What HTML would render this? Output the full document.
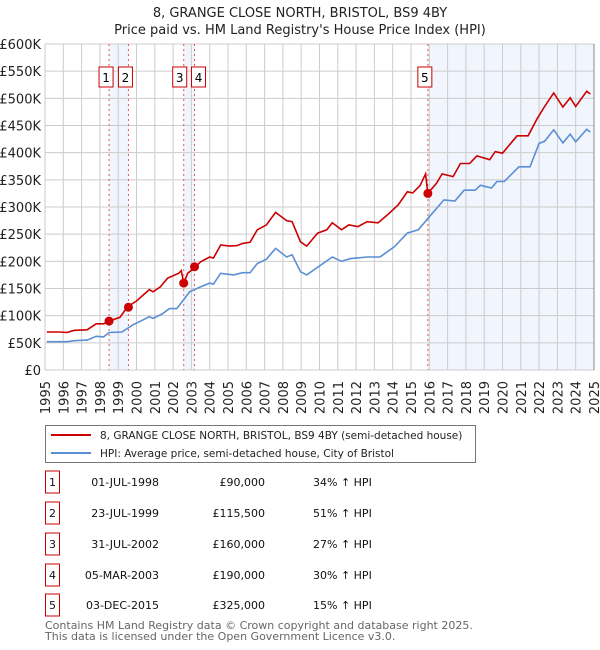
<!DOCTYPE html>
<html><head><meta charset="utf-8">
<style>
body{margin:0;background:#fff;font-family:"Liberation Sans","DejaVu Sans",sans-serif;}
#wrap{position:relative;width:600px;height:650px;overflow:hidden;}
svg text{font-family:"DejaVu Sans","Liberation Sans",sans-serif;}
</style></head>
<body>
<div id="wrap">
<svg id="chart" width="600" height="650" viewBox="0 0 600 650">
<text x="300" y="17" text-anchor="middle" font-size="13" fill="#222">8, GRANGE CLOSE NORTH, BRISTOL, BS9 4BY</text>
<text x="300" y="34" text-anchor="middle" font-size="13" fill="#222">Price paid vs. HM Land Registry's House Price Index (HPI)</text>
<g id="bands"></g><g id="grid"></g><g id="vlines"></g><g id="series"></g><g id="marks"></g><g id="axes"></g>
<g>
<rect x="45.5" y="425.5" width="430" height="37" fill="#fff" stroke="#777"/>
<line x1="51" y1="435" x2="91" y2="435" stroke="#cc0000" stroke-width="2"/>
<text x="100" y="439" font-size="10.5" fill="#222">8, GRANGE CLOSE NORTH, BRISTOL, BS9 4BY (semi-detached house)</text>
<line x1="51" y1="453" x2="91" y2="453" stroke="#5b8fd4" stroke-width="2"/>
<text x="100" y="457" font-size="10.5" fill="#222">HPI: Average price, semi-detached house, City of Bristol</text>
</g>
<g id="table"></g>
<text x="45" y="629" font-size="11" fill="#666">Contains HM Land Registry data © Crown copyright and database right 2025.</text>
<text x="45" y="640" font-size="11" fill="#666">This data is licensed under the Open Government Licence v3.0.</text>
</svg>
</div>
<script>
const hpiYears=[1995.1,1996.2,1996.6,1997.3,1997.8,1998.2,1998.5,1999.2,1999.8,2000.7,2000.9,2001.4,2001.8,2002.2,2002.5,2002.9,2003.3,2003.5,2004.0,2004.2,2004.6,2005.3,2005.8,2006.2,2006.6,2007.1,2007.6,2008.2,2008.5,2008.96,2009.3,2010.7,2011.2,2011.7,2012.6,2013.3,2014.1,2014.8,2015.4,2016.0,2016.8,2017.4,2017.9,2018.5,2018.8,2019.4,2019.7,2020.1,2020.9,2021.5,2022.0,2022.3,2022.8,2023.3,2023.7,2024.0,2024.6,2024.8];
const hpiValues=[52,52,54,55,62,61,69,70,83,98,95,103,113,113,126,144,150,153,160,158,178,175,179,179,196,204,224,208,212,181,175,208,200,205,208,208,227,252,258,282,313,311,331,331,340,335,347,347,374,374,417,421,442,418,434,420,443,438];
const priceYears=[1995.1,1995.8,1996.2,1996.6,1997.3,1997.8,1998.2,1998.5,1999.1,1999.5,2000.0,2000.7,2000.9,2001.3,2001.7,2002.3,2002.45,2002.58,2002.8,2003.2,2003.5,2004.0,2004.2,2004.6,2005.1,2005.5,2005.8,2006.2,2006.6,2007.1,2007.6,2008.2,2008.5,2008.96,2009.3,2009.9,2010.4,2010.7,2011.2,2011.6,2012.1,2012.6,2013.2,2013.8,2014.3,2014.8,2015.1,2015.5,2015.8,2015.92,2016.4,2016.7,2017.3,2017.7,2018.2,2018.6,2019.3,2019.6,2020.0,2020.8,2021.4,2021.9,2022.3,2022.8,2023.3,2023.7,2024.0,2024.6,2024.8];
const priceValues=[70,70,69,73,74,85,85,90,97,116,127,148,144,153,169,178,183,160,178,189,199,208,206,230,228,229,233,235,258,267,290,275,273,236,228,252,258,271,258,267,264,273,271,288,304,328,326,340,361,325,344,361,356,380,380,394,387,402,399,431,431,463,485,510,484,501,485,513,508];
const saleLabels=["1","2","3","4","5"];
const saleYears=[1998.5,1999.56,2002.58,2003.17,2015.92];
const saleValues=[90,115.5,160,190,325];
const saleDates=["01-JUL-1998","23-JUL-1999","31-JUL-2002","05-MAR-2003","03-DEC-2015"];
const salePrices=["£90,000","£115,500","£160,000","£190,000","£325,000"];
const saleHpi=["34% ↑ HPI","51% ↑ HPI","27% ↑ HPI","30% ↑ HPI","15% ↑ HPI"];
const yTicks=[0,50,100,150,200,250,300,350,400,450,500,550,600];
const yTickLabels=["£0","£50K","£100K","£150K","£200K","£250K","£300K","£350K","£400K","£450K","£500K","£550K","£600K"];
const xTicks=[1995,1996,1997,1998,1999,2000,2001,2002,2003,2004,2005,2006,2007,2008,2009,2010,2011,2012,2013,2014,2015,2016,2017,2018,2019,2020,2021,2022,2023,2024,2025];

const X0=45,X1=594,Y0=370,Y1=44;
const xs=y=>X0+(y-1995)/30*(X1-X0);
const ys=v=>Y0-v/600*(Y0-Y1);
const NS="http://www.w3.org/2000/svg";
function mk(tag,attrs,parent,text){const e=document.createElementNS(NS,tag);for(const k in attrs)e.setAttribute(k,attrs[k]);if(text!==undefined)e.textContent=text;document.getElementById(parent).appendChild(e);return e;}

const bandPairs=[[0,1],[2,3],[4,null]];
bandPairs.forEach((p,i)=>{const a=xs(saleYears[p[0]]);const b=p[1]===null?X1:xs(saleYears[p[1]]);
const r=mk('rect',{x:a,y:Y1,width:b-a,height:Y0-Y1,fill:'#eef3fc',opacity:0.8},'bands');

});
yTicks.forEach((t,i)=>{const l=mk('line',{x1:X0,x2:X1,y1:ys(t),y2:ys(t),stroke:'#cccccc','stroke-width':1},'grid');


const tx=mk('text',{x:X0-4,y:ys(t)+5,'text-anchor':'end','font-size':13,fill:'#222'},'axes',yTickLabels[i]);

});
xTicks.forEach(t=>{const l=mk('line',{x1:xs(t),x2:xs(t),y1:Y1,y2:Y0,stroke:'#cccccc','stroke-width':1},'grid');


const tx=mk('text',{x:0,y:0,'text-anchor':'end','font-size':13,fill:'#222',transform:`translate(${xs(t)+5},${Y0+11}) rotate(-90)`},'axes',String(t));

});
const edge=mk('line',{x1:X1,x2:X1,y1:Y1,y2:Y0,stroke:'#888','stroke-width':1},'grid');


saleYears.forEach((y,i)=>{const l=mk('line',{x1:xs(y),x2:xs(y),y1:Y1,y2:Y0,stroke:'#ee5555','stroke-width':1,'stroke-dasharray':'2,3'},'vlines');

});
const pts=(a,b)=>a.map((y,i)=>xs(y).toFixed(1)+','+ys(b[i]).toFixed(1)).join(' ');
const hp=mk('polyline',{points:pts(hpiYears,hpiValues),fill:'none',stroke:'#5b8fd4','stroke-width':1.6},'series');


const pp=mk('polyline',{points:pts(priceYears,priceValues),fill:'none',stroke:'#cc0000','stroke-width':1.6},'series');


const boxShift=[-3,-3,-4,4,-3];
saleYears.forEach((y,i)=>{const c=mk('circle',{cx:xs(y),cy:ys(saleValues[i]),r:4.5,fill:'#cc0000'},'marks');


const cx=xs(y)+boxShift[i];
const g=mk('g',{},'marks');


const r=document.createElementNS(NS,'rect');r.setAttribute('x',cx-7);r.setAttribute('y',67);r.setAttribute('width',14);r.setAttribute('height',20);r.setAttribute('fill','#fff');r.setAttribute('stroke','#cc0000');g.appendChild(r);
const t=document.createElementNS(NS,'text');t.setAttribute('x',cx);t.setAttribute('y',82);t.setAttribute('text-anchor','middle');t.setAttribute('font-size',12);t.textContent=saleLabels[i];g.appendChild(t);});
const rowY=[482,513,544,575,605];
saleLabels.forEach((s,i)=>{const y=rowY[i];
const g=mk('g',{},'table');


const add=(tag,at,tx)=>{const e=document.createElementNS(NS,tag);for(const k in at)e.setAttribute(k,at[k]);if(tx)e.textContent=tx;g.appendChild(e);};
add('rect',{x:45.5,y:y-11,width:14,height:22,fill:'#fff',stroke:'#cc0000'});
add('text',{x:52.5,y:y+4,'text-anchor':'middle','font-size':11,fill:'#111'},s);
add('text',{x:159,y:y+4,'text-anchor':'end','font-size':11,fill:'#111'},saleDates[i]);
add('text',{x:265,y:y+4,'text-anchor':'end','font-size':11,fill:'#111'},salePrices[i]);
add('text',{x:313,y:y+4,'font-size':11,fill:'#111'},saleHpi[i]);});
</script>
</body></html>
